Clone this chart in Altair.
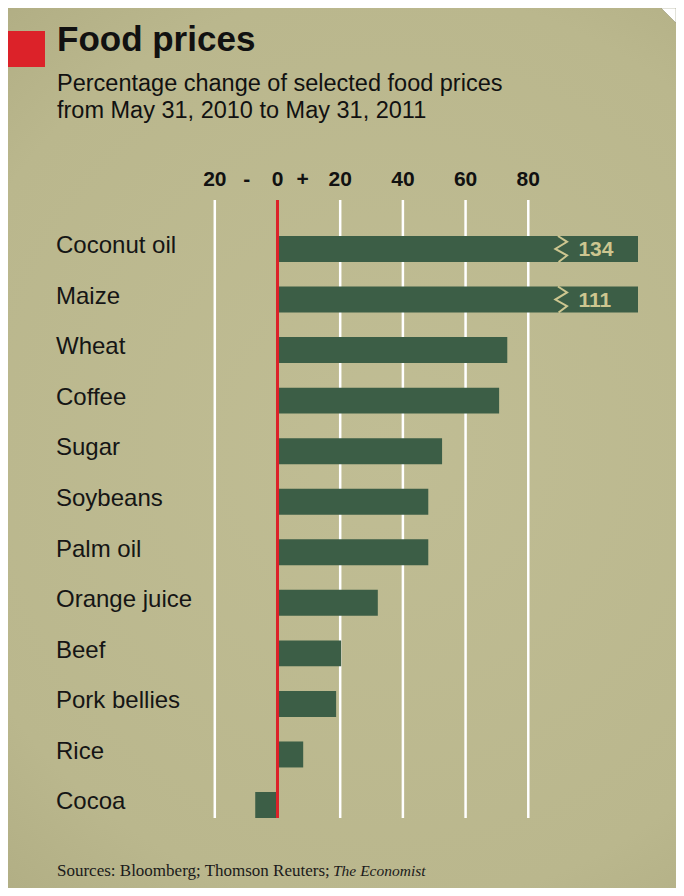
import altair as alt
import pandas as pd

# ---- data ----
foods = ["Coconut oil", "Maize", "Wheat", "Coffee", "Sugar", "Soybeans",
         "Palm oil", "Orange juice", "Beef", "Pork bellies", "Rice", "Cocoa"]
changes = [134, 111, 73.3, 70.7, 52.5, 48.1, 48.1, 32.0, 20.3, 18.7, 8.2, -7.1]
axis_max = 115          # broken bars are drawn out to here
break_threshold = 100   # values above this get a broken bar
break_at = 90.5
break_label_at = 96

tick_values = [-20, -9.8, 0, 8, 20, 40, 60, 80]
tick_labels = ["20", "-", "0", "+", "20", "40", "60", "80"]
grid_values = [-20, 20, 40, 60, 80]

title = "Food prices"
subtitle_1 = "Percentage change of selected food prices"
subtitle_2 = "from May 31, 2010 to May 31, 2011"
source_plain = "Sources: Bloomberg; Thomson Reuters;"
source_italic = "The Economist"

W, H = 668, 880
FONT = "Liberation Sans"
BAR = "#3c5e46"
BEIGE = "#cdc690"
RED = "#dc2229"

df = pd.DataFrame({"food": foods, "change": changes})
df["broken"] = df["change"] > break_threshold
df["shown"] = df["change"].where(~df["broken"], axis_max)
df["label"] = df["change"].map(lambda v: f"{v:.0f}")

xscale = alt.Scale(domain=[-20, axis_max], range=[206.8, 630.0], nice=False, zero=False)
yscale = alt.Scale(domain=foods, range=[215.7, 822.3], paddingInner=0.486, paddingOuter=0.243)

one = pd.DataFrame({"k": [0]})


def label(text, x, y, **kw):
    return alt.Chart(pd.DataFrame({"t": [text]})).mark_text(
        align="left", baseline="alphabetic", **kw
    ).encode(text="t:N", x=alt.value(x), y=alt.value(y))


bg = alt.Chart(one).mark_rect(
    color={"gradient": "radial", "x1": 0.55, "y1": 0.5, "r1": 0.0,
           "x2": 0.55, "y2": 0.5, "r2": 0.8,
           "stops": [{"offset": 0, "color": "#c0bd94"},
                     {"offset": 0.65, "color": "#bab78d"},
                     {"offset": 1, "color": "#a9a67c"}]}
).encode(x=alt.value(0), x2=alt.value(W), y=alt.value(0), y2=alt.value(H))

corner = alt.Chart(one).mark_point(
    shape="M-1,-1 L1,-1 L1,1 Z", filled=True, fill="white", stroke="#8a8a6a",
    strokeWidth=0.5, opacity=1, size=15 * 15
).encode(x=alt.value(W - 7.5), y=alt.value(7.5))

red_box = alt.Chart(one).mark_rect(color=RED).encode(
    x=alt.value(0), x2=alt.value(37), y=alt.value(23), y2=alt.value(59))

title_t = label(title, 49, 43, font=FONT, fontSize=35, fontWeight="bold", color="#111111")
sub1 = label(subtitle_1, 49, 83, font=FONT, fontSize=23.5, color="#111111")
sub2 = label(subtitle_2, 49, 110, font=FONT, fontSize=23.5, color="#111111")
src1 = label(source_plain, 49, 868, font="Liberation Serif", fontSize=17, color="#1a1a1a")
src2 = label(source_italic, 325, 868, font="Liberation Serif", fontSize=15.5,
             fontStyle="italic", color="#1a1a1a")

grid = alt.Chart(pd.DataFrame({"g": grid_values})).mark_rule(
    color="white", strokeWidth=2.5
).encode(x=alt.X("g:Q", scale=xscale, axis=None), y=alt.value(192), y2=alt.value(810))

ticks = alt.Chart(pd.DataFrame({"v": tick_values, "t": tick_labels})).mark_text(
    font=FONT, fontSize=21, fontWeight="bold", color="#111111",
    align="center", baseline="alphabetic"
).encode(x=alt.X("v:Q", scale=xscale, axis=None), y=alt.value(178), text="t:N")

bars = alt.Chart(df).mark_bar(color=BAR).encode(
    x=alt.X("shown:Q", scale=xscale, axis=None),
    y=alt.Y("food:N", sort=foods, scale=yscale, axis=None),
)

zero = alt.Chart(pd.DataFrame({"z": [0]})).mark_rule(
    color=RED, strokeWidth=3
).encode(x=alt.X("z:Q", scale=xscale, axis=None), y=alt.value(192), y2=alt.value(810))

cats = alt.Chart(df).mark_text(
    font=FONT, fontSize=24, color="#151515", align="left", baseline="alphabetic", dy=4.3
).encode(x=alt.value(48), y=alt.Y("food:N", sort=foods, scale=yscale, axis=None), text="food:N")

capped = df[df["broken"]].copy()
capped["brk"] = break_at
capped["lab_x"] = break_label_at

zig = alt.Chart(capped).mark_point(
    shape="M-0.25,-1 L0.45,-0.55 L-0.45,0 L0.45,0.5 L-0.2,1",
    filled=False, stroke=BEIGE, strokeWidth=2, opacity=1, size=26 * 26
).encode(x=alt.X("brk:Q", scale=xscale, axis=None),
         y=alt.Y("food:N", sort=foods, scale=yscale, axis=None))

cap_lab = alt.Chart(capped).mark_text(
    font=FONT, fontSize=21, fontWeight="bold", color=BEIGE, align="left",
    baseline="alphabetic", dy=7.5
).encode(x=alt.X("lab_x:Q", scale=xscale, axis=None),
         y=alt.Y("food:N", sort=foods, scale=yscale, axis=None), text="label:N")

chart = alt.layer(
    bg, corner, red_box, title_t, sub1, sub2, src1, src2, grid, ticks, bars, zero, cats, zig, cap_lab
).properties(
    width=W, height=H, padding=0, autosize=alt.AutoSizeParams(type="none")
).configure_view(stroke=None).configure(background="white")

chart.save("out.html", embed_options={"renderer": "svg", "actions": False})
